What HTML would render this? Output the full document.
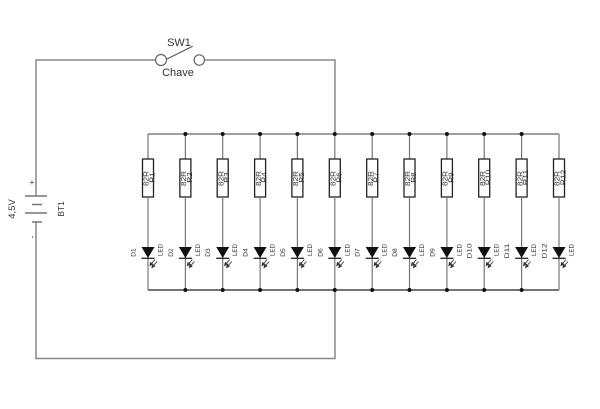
<!DOCTYPE html>
<html>
<head>
<meta charset="utf-8">
<style>
  html,body{margin:0;padding:0;background:#fff;}
  svg{display:block;}
  text{font-family:"Liberation Sans",sans-serif;fill:#333;}
</style>
</head>
<body>
<svg width="600" height="409" viewBox="0 0 600 409" xmlns="http://www.w3.org/2000/svg">
  <defs>
    <g id="col">
      <line x1="0" y1="134" x2="0" y2="159" stroke="#777" stroke-width="1.2"/>
      <rect x="-5.5" y="159" width="11" height="38" fill="#fff" stroke="#222" stroke-width="1.3"/>
      <line x1="0" y1="197" x2="0" y2="290" stroke="#777" stroke-width="1.2"/>
      <polygon points="-6.5,247 6.5,247 0,258" fill="#111"/>
      <line x1="-6.5" y1="258.3" x2="6.5" y2="258.3" stroke="#222" stroke-width="1.3"/>
      <g stroke="#333" stroke-width="0.9" fill="#333">
        <line x1="7" y1="259.5" x2="2.8" y2="264.5"/>
        <polygon points="2,265.5 2.6,262.6 4.6,264.2"/>
        <line x1="9" y1="261.5" x2="4.8" y2="266.5"/>
        <polygon points="4,267.5 4.6,264.6 6.6,266.2"/>
      </g>
    </g>
  </defs>

  <!-- outer loop wires -->
  <g stroke="#888" stroke-width="1.5" fill="none">
    <polyline points="36,196 36,60 155.5,60"/>
    <polyline points="204.5,60 335,60 335,134"/>
    <polyline points="36,222 36,358.5 335,358.5 335,290"/>
  </g>

  <!-- switch -->
  <circle cx="161" cy="60" r="5.5" fill="#fff" stroke="#666" stroke-width="1.2"/>
  <circle cx="199.3" cy="60" r="5.2" fill="#fff" stroke="#666" stroke-width="1.2"/>
  <line x1="166.5" y1="59.3" x2="192.7" y2="46.3" stroke="#555" stroke-width="1.1"/>
  <text x="179" y="46" font-size="11" text-anchor="middle">SW1</text>
  <text x="178" y="76" font-size="11" text-anchor="middle">Chave</text>

  <!-- battery -->
  <g stroke="#777" stroke-width="1.5">
    <line x1="25" y1="196" x2="47" y2="196"/>
    <line x1="32" y1="204.5" x2="42" y2="204.5"/>
    <line x1="25" y1="213" x2="47" y2="213"/>
    <line x1="32" y1="222" x2="42" y2="222"/>
  </g>
  <text x="32" y="185" font-size="8" text-anchor="middle">+</text>
  <text transform="translate(34.5,237) rotate(-90)" font-size="8" text-anchor="middle">-</text>
  <text transform="translate(15,209) rotate(-90)" font-size="9.5" text-anchor="middle">4,5V</text>
  <text transform="translate(64,209) rotate(-90)" font-size="8.5" text-anchor="middle">BT1</text>

  <!-- buses -->
  <line x1="148" y1="134" x2="559" y2="134" stroke="#666" stroke-width="1.2"/>
  <line x1="148" y1="290" x2="559" y2="290" stroke="#222" stroke-width="1.2"/>

  <!-- columns -->
  <use href="#col" x="148"/>
  <use href="#col" x="185.4"/>
  <use href="#col" x="222.7"/>
  <use href="#col" x="260.1"/>
  <use href="#col" x="297.4"/>
  <use href="#col" x="334.8"/>
  <use href="#col" x="372.2"/>
  <use href="#col" x="409.5"/>
  <use href="#col" x="446.9"/>
  <use href="#col" x="484.2"/>
  <use href="#col" x="521.6"/>
  <use href="#col" x="559"/>

  <!-- junction dots -->
  <g fill="#111">
    <circle cx="185.4" cy="134" r="2"/><circle cx="222.7" cy="134" r="2"/><circle cx="260.1" cy="134" r="2"/>
    <circle cx="297.4" cy="134" r="2"/><circle cx="334.8" cy="134" r="2"/><circle cx="372.2" cy="134" r="2"/>
    <circle cx="409.5" cy="134" r="2"/><circle cx="446.9" cy="134" r="2"/><circle cx="484.2" cy="134" r="2"/>
    <circle cx="521.6" cy="134" r="2"/>
    <circle cx="185.4" cy="290" r="2"/><circle cx="222.7" cy="290" r="2"/><circle cx="260.1" cy="290" r="2"/>
    <circle cx="297.4" cy="290" r="2"/><circle cx="334.8" cy="290" r="2"/><circle cx="372.2" cy="290" r="2"/>
    <circle cx="409.5" cy="290" r="2"/><circle cx="446.9" cy="290" r="2"/><circle cx="484.2" cy="290" r="2"/>
    <circle cx="521.6" cy="290" r="2"/>
  </g>

  <!-- resistor value labels -->
  <g font-size="7" text-anchor="middle">
    <text transform="translate(148.7,178.5) rotate(-90)" textLength="15" lengthAdjust="spacingAndGlyphs">82R</text>
    <text transform="translate(186.1,178.5) rotate(-90)" textLength="15" lengthAdjust="spacingAndGlyphs">82R</text>
    <text transform="translate(223.4,178.5) rotate(-90)" textLength="15" lengthAdjust="spacingAndGlyphs">82R</text>
    <text transform="translate(260.8,178.5) rotate(-90)" textLength="15" lengthAdjust="spacingAndGlyphs">82R</text>
    <text transform="translate(298.1,178.5) rotate(-90)" textLength="15" lengthAdjust="spacingAndGlyphs">82R</text>
    <text transform="translate(335.5,178.5) rotate(-90)" textLength="15" lengthAdjust="spacingAndGlyphs">82R</text>
    <text transform="translate(372.9,178.5) rotate(-90)" textLength="15" lengthAdjust="spacingAndGlyphs">82R</text>
    <text transform="translate(410.2,178.5) rotate(-90)" textLength="15" lengthAdjust="spacingAndGlyphs">82R</text>
    <text transform="translate(447.6,178.5) rotate(-90)" textLength="15" lengthAdjust="spacingAndGlyphs">82R</text>
    <text transform="translate(484.9,178.5) rotate(-90)" textLength="15" lengthAdjust="spacingAndGlyphs">82R</text>
    <text transform="translate(522.3,178.5) rotate(-90)" textLength="15" lengthAdjust="spacingAndGlyphs">82R</text>
    <text transform="translate(559.7,178.5) rotate(-90)" textLength="15" lengthAdjust="spacingAndGlyphs">82R</text>
  </g>
  <g font-size="7" text-anchor="middle">
    <text transform="translate(154.5,177.5) rotate(-90)" textLength="10.5" lengthAdjust="spacingAndGlyphs">R1</text>
    <text transform="translate(191.9,177.5) rotate(-90)" textLength="10.5" lengthAdjust="spacingAndGlyphs">R2</text>
    <text transform="translate(229.2,177.5) rotate(-90)" textLength="10.5" lengthAdjust="spacingAndGlyphs">R3</text>
    <text transform="translate(266.6,177.5) rotate(-90)" textLength="10.5" lengthAdjust="spacingAndGlyphs">R4</text>
    <text transform="translate(303.9,177.5) rotate(-90)" textLength="10.5" lengthAdjust="spacingAndGlyphs">R5</text>
    <text transform="translate(341.3,177.5) rotate(-90)" textLength="10.5" lengthAdjust="spacingAndGlyphs">R6</text>
    <text transform="translate(378.7,177.5) rotate(-90)" textLength="10.5" lengthAdjust="spacingAndGlyphs">R7</text>
    <text transform="translate(416,177.5) rotate(-90)" textLength="10.5" lengthAdjust="spacingAndGlyphs">R8</text>
    <text transform="translate(453.4,177.5) rotate(-90)" textLength="10.5" lengthAdjust="spacingAndGlyphs">R9</text>
    <text transform="translate(490.7,177.5) rotate(-90)" textLength="15.5" lengthAdjust="spacingAndGlyphs">R10</text>
    <text transform="translate(528.1,177.5) rotate(-90)" textLength="15.5" lengthAdjust="spacingAndGlyphs">R11</text>
    <text transform="translate(565.5,177.5) rotate(-90)" textLength="15.5" lengthAdjust="spacingAndGlyphs">R12</text>
  </g>

  <!-- LED designators -->
  <g font-size="6.5" text-anchor="middle">
    <text transform="translate(135.5,252.5) rotate(-90)" textLength="8.5" lengthAdjust="spacingAndGlyphs">D1</text>
    <text transform="translate(172.9,252.5) rotate(-90)" textLength="8.5" lengthAdjust="spacingAndGlyphs">D2</text>
    <text transform="translate(210.2,252.5) rotate(-90)" textLength="8.5" lengthAdjust="spacingAndGlyphs">D3</text>
    <text transform="translate(247.6,252.5) rotate(-90)" textLength="8.5" lengthAdjust="spacingAndGlyphs">D4</text>
    <text transform="translate(284.9,252.5) rotate(-90)" textLength="8.5" lengthAdjust="spacingAndGlyphs">D5</text>
    <text transform="translate(322.3,252.5) rotate(-90)" textLength="8.5" lengthAdjust="spacingAndGlyphs">D6</text>
    <text transform="translate(359.7,252.5) rotate(-90)" textLength="8.5" lengthAdjust="spacingAndGlyphs">D7</text>
    <text transform="translate(397,252.5) rotate(-90)" textLength="8.5" lengthAdjust="spacingAndGlyphs">D8</text>
    <text transform="translate(434.4,252.5) rotate(-90)" textLength="8.5" lengthAdjust="spacingAndGlyphs">D9</text>
    <text transform="translate(471.7,251) rotate(-90)" textLength="15" lengthAdjust="spacingAndGlyphs">D10</text>
    <text transform="translate(509.1,251) rotate(-90)" textLength="15" lengthAdjust="spacingAndGlyphs">D11</text>
    <text transform="translate(546.5,251) rotate(-90)" textLength="15" lengthAdjust="spacingAndGlyphs">D12</text>
  </g>
  <g font-size="6.5" text-anchor="middle">
    <text transform="translate(162.5,250) rotate(-90)" textLength="12" lengthAdjust="spacingAndGlyphs">LED</text>
    <text transform="translate(199.9,250) rotate(-90)" textLength="12" lengthAdjust="spacingAndGlyphs">LED</text>
    <text transform="translate(237.2,250) rotate(-90)" textLength="12" lengthAdjust="spacingAndGlyphs">LED</text>
    <text transform="translate(274.6,250) rotate(-90)" textLength="12" lengthAdjust="spacingAndGlyphs">LED</text>
    <text transform="translate(311.9,250) rotate(-90)" textLength="12" lengthAdjust="spacingAndGlyphs">LED</text>
    <text transform="translate(349.3,250) rotate(-90)" textLength="12" lengthAdjust="spacingAndGlyphs">LED</text>
    <text transform="translate(386.7,250) rotate(-90)" textLength="12" lengthAdjust="spacingAndGlyphs">LED</text>
    <text transform="translate(424,250) rotate(-90)" textLength="12" lengthAdjust="spacingAndGlyphs">LED</text>
    <text transform="translate(461.4,250) rotate(-90)" textLength="12" lengthAdjust="spacingAndGlyphs">LED</text>
    <text transform="translate(498.7,250) rotate(-90)" textLength="12" lengthAdjust="spacingAndGlyphs">LED</text>
    <text transform="translate(536.1,250) rotate(-90)" textLength="12" lengthAdjust="spacingAndGlyphs">LED</text>
    <text transform="translate(573.5,250) rotate(-90)" textLength="12" lengthAdjust="spacingAndGlyphs">LED</text>
  </g>
</svg>
</body>
</html>
